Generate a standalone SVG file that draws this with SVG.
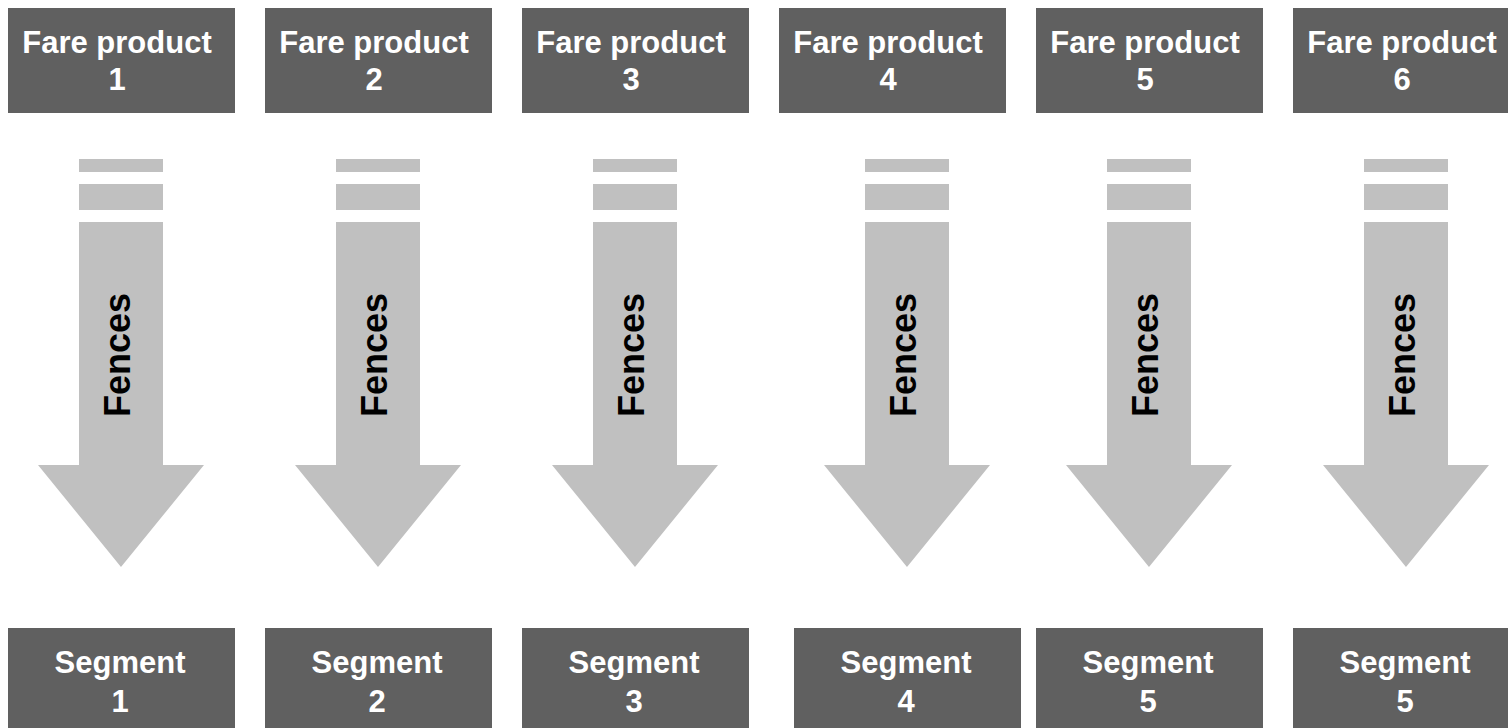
<svg xmlns="http://www.w3.org/2000/svg" width="1508" height="728" viewBox="0 0 1508 728">
<style>
.box{fill:#606060}
.arr{fill:#c0c0c0}
.lbl{font-family:"Liberation Sans",Arial,sans-serif;font-weight:bold;font-size:31px;fill:#ffffff;text-anchor:middle}
.fen{font-family:"Liberation Sans",Arial,sans-serif;font-weight:bold;font-size:36px;fill:#000000;text-anchor:middle}
</style>
<defs>
<g id="arrowShape">
<rect x="-42" y="159" width="84" height="13"/>
<rect x="-42" y="184" width="84" height="26"/>
<polygon points="-42,222 42,222 42,465 83,465 0,567 -83,465 -42,465"/>
</g>
</defs>
<rect width="1508" height="728" fill="#ffffff"/>
<g id="connectors">
<g id="fence1" class="arr"><use href="#arrowShape" x="121"/><text class="fen" transform="translate(130,355) rotate(-90)">Fences</text></g>
<g id="fence2" class="arr"><use href="#arrowShape" x="378"/><text class="fen" transform="translate(387,355) rotate(-90)">Fences</text></g>
<g id="fence3" class="arr"><use href="#arrowShape" x="635"/><text class="fen" transform="translate(644,355) rotate(-90)">Fences</text></g>
<g id="fence4" class="arr"><use href="#arrowShape" x="907"/><text class="fen" transform="translate(916,355) rotate(-90)">Fences</text></g>
<g id="fence5" class="arr"><use href="#arrowShape" x="1149"/><text class="fen" transform="translate(1158,355) rotate(-90)">Fences</text></g>
<g id="fence6" class="arr"><use href="#arrowShape" x="1406"/><text class="fen" transform="translate(1415,355) rotate(-90)">Fences</text></g>
</g>
<g id="fare1"><rect class="box" x="8" y="8" width="227" height="105"/><text class="lbl" x="117" y="53">Fare product</text><text class="lbl" x="117" y="90">1</text></g>
<g id="fare2"><rect class="box" x="265" y="8" width="227" height="105"/><text class="lbl" x="374" y="53">Fare product</text><text class="lbl" x="374" y="90">2</text></g>
<g id="fare3"><rect class="box" x="522" y="8" width="227" height="105"/><text class="lbl" x="631" y="53">Fare product</text><text class="lbl" x="631" y="90">3</text></g>
<g id="fare4"><rect class="box" x="779" y="8" width="227" height="105"/><text class="lbl" x="888" y="53">Fare product</text><text class="lbl" x="888" y="90">4</text></g>
<g id="fare5"><rect class="box" x="1036" y="8" width="227" height="105"/><text class="lbl" x="1145" y="53">Fare product</text><text class="lbl" x="1145" y="90">5</text></g>
<g id="fare6"><rect class="box" x="1293" y="8" width="227" height="105"/><text class="lbl" x="1402" y="53">Fare product</text><text class="lbl" x="1402" y="90">6</text></g>
<g id="seg1"><rect class="box" x="8" y="628" width="227" height="110"/><text class="lbl" x="120" y="673">Segment</text><text class="lbl" x="120" y="712">1</text></g>
<g id="seg2"><rect class="box" x="265" y="628" width="227" height="110"/><text class="lbl" x="377" y="673">Segment</text><text class="lbl" x="377" y="712">2</text></g>
<g id="seg3"><rect class="box" x="522" y="628" width="227" height="110"/><text class="lbl" x="634" y="673">Segment</text><text class="lbl" x="634" y="712">3</text></g>
<g id="seg4"><rect class="box" x="794" y="628" width="227" height="110"/><text class="lbl" x="906" y="673">Segment</text><text class="lbl" x="906" y="712">4</text></g>
<g id="seg5"><rect class="box" x="1036" y="628" width="227" height="110"/><text class="lbl" x="1148" y="673">Segment</text><text class="lbl" x="1148" y="712">5</text></g>
<g id="seg6"><rect class="box" x="1293" y="628" width="227" height="110"/><text class="lbl" x="1405" y="673">Segment</text><text class="lbl" x="1405" y="712">5</text></g>
</svg>
